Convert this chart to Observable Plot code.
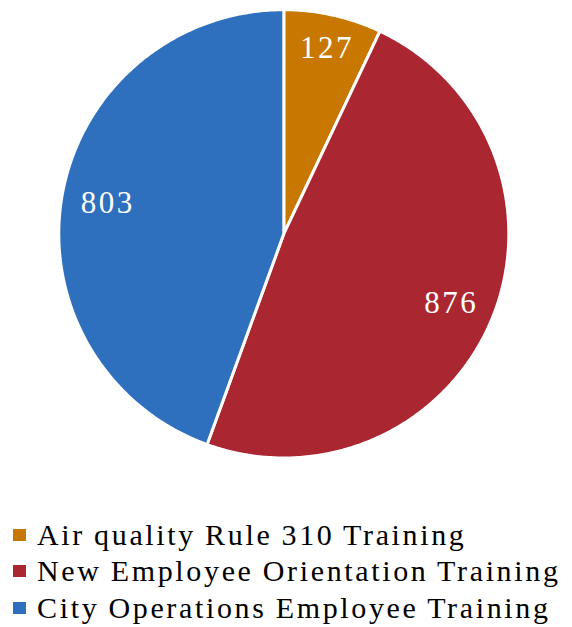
<!DOCTYPE html>
<html><head><meta charset="utf-8">
<script src="https://cdn.jsdelivr.net/npm/d3@7"></script>
<script src="https://cdn.jsdelivr.net/npm/@observablehq/plot@0.6"></script>
<style>
body{margin:0;background:#fff;font-family:'Liberation Serif';}
#chart svg{display:block;}
#legend{padding-top:26.5px;}
.row{display:flex;align-items:center;height:36.5px;line-height:36.5px;font-family:'Liberation Serif';font-size:30px;letter-spacing:2.65px;word-spacing:-1px;color:#000;white-space:nowrap;}
.sw{width:13px;height:12px;margin-left:13px;margin-right:11px;flex:none;}
</style></head>
<body>
<div id="chart"></div>
<div id="legend"></div>
<script>
const categories = ["Air quality Rule 310 Training","New Employee Orientation Training","City Operations Employee Training"];
const values = [127, 876, 803];
const colors = ["#C87800","#AA2731","#2E6FBE"];

const total = d3.sum(values);
const slices = [];
const labels = [];
let cum = 0;
categories.forEach((c, i) => {
  const a0 = cum / total * 2 * Math.PI;
  cum += values[i];
  const a1 = cum / total * 2 * Math.PI;
  const n = Math.max(8, Math.ceil((a1 - a0) / 0.01));
  slices.push({cat: c, x: 0, y: 0});
  for (let k = 0; k <= n; k++) {
    const a = a0 + (a1 - a0) * k / n;
    slices.push({cat: c, x: Math.sin(a), y: Math.cos(a)});
  }
  slices.push({cat: c, x: 0, y: 0});
  const am = (a0 + a1) / 2;
  const lr = values[i] / total < 0.1 ? 0.85 : 0.8;
  labels.push({cat: c, value: values[i], x: lr * Math.sin(am), y: lr * Math.cos(am)});
});

const plot = Plot.plot({
  width: 572, height: 490,
  margin: 0,
  x: {domain: [-1, 1], range: [58.3, 508.3], axis: null},
  y: {domain: [-1, 1], range: [457.5, 9.2], axis: null},
  color: {domain: categories, range: colors},
  style: {fontFamily: "Liberation Serif", letterSpacing: "2.5px", background: "#fff"},
  marks: [
    Plot.line(slices, {x: "x", y: "y", z: "cat", fill: "cat", stroke: "#fff", strokeWidth: 3, strokeLinejoin: "round", curve: "linear"}),
    Plot.text(labels, {x: "x", y: "y", text: d => String(d.value), fill: "#fff", fontSize: 31, fontFamily: "Liberation Serif", dx: 1.25})
  ]
});
document.getElementById("chart").appendChild(plot);

const leg = document.getElementById("legend");
categories.forEach((c, i) => {
  const r = document.createElement("div");
  r.className = "row";
  r.innerHTML = `<span class="sw" style="background:${colors[i]}"></span><span>${c}</span>`;
  leg.appendChild(r);
});
</script>
</body></html>
